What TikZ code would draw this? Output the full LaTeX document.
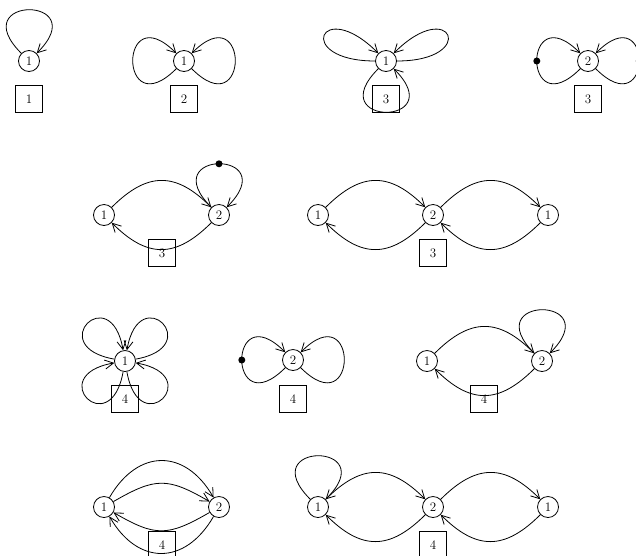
\documentclass[tikz,border=0pt]{standalone}
\usepackage{tikz}
\usetikzlibrary{arrows.meta}

\begin{document}
\begin{tikzpicture}[x=1pt, y=-1pt, line width=0.8pt, >={Straight Barb[length=8.5pt,width=9pt]},
    vtx/.style={circle, draw, inner sep=0pt, minimum size=21pt, font=\fontsize{13}{15}\selectfont},
    lbl/.style={rectangle, draw, inner sep=0pt, minimum size=26.5pt, font=\fontsize{13}{15}\selectfont},
    dot/.style={circle, fill, inner sep=0pt, minimum size=7pt},
    lp/.style={distance=82pt},
    arc/.style={bend left=45, looseness=1.3}]
    \useasboundingbox (0,0) rectangle (636,555);
    % one loop
    \node[vtx] (a1) at (29,61) {1};
    \node[lbl] (a1l) at (29,99) {1};
    \draw[->] (a1) to[out=135,in=45,lp] (a1);
    % two loops
    \node[vtx] (b1) at (184,61) {1};
    \node[lbl] (b1l) at (184,99) {2};
    \draw[->] (b1) to[out=225,in=135,lp] (b1);
    \draw[->] (b1) to[out=315,in=45,lp] (b1);
    % three loops
    \node[vtx] (c1) at (386,61) {1};
    \node[lbl] (c1l) at (386,99) {3};
    \draw[->] (c1) to[out=180,in=135,lp] (c1);
    \draw[->] (c1) to[out=0,in=45,lp] (c1);
    \draw[->] (c1) to[out=225,in=315,lp] (c1);
    % loops with marked points
    \node[vtx] (d1) at (588,61) {2};
    \node[lbl] (d1l) at (588,99) {3};
    \draw[->] (d1) to[out=225,in=135,lp] node[dot,pos=0.5] (d1a) {} (d1);
    \draw[->] (d1) to[out=315,in=45,lp] node[dot,pos=0.5] (d1b) {} (d1);

    % second row
    \node[vtx] (e1) at (104,215) {1};
    \node[vtx] (e2) at (219,215) {2};
    \node[lbl] (e1l) at (162,253) {3};
    \draw[->] (e1) to[arc] (e2);
    \draw[->] (e2) to[arc] (e1);
    \draw[->] (e2) to[out=135,in=45,lp] node[dot,pos=0.5] (e2a) {} (e2);
    % chain of three
    \node[vtx] (f1) at (318,215) {1};
    \node[vtx] (f2) at (433,215) {2};
    \node[vtx] (f3) at (548,215) {1};
    \node[lbl] (f1l) at (433,253) {3};
    \draw[->] (f1) to[arc] (f2);
    \draw[->] (f2) to[arc] (f1);
    \draw[->] (f2) to[arc] (f3);
    \draw[->] (f3) to[arc] (f2);

    % four loops
    \node[vtx] (g1) at (125,361) {1};
    \node[lbl] (g1l) at (125,399) {4};
    \draw[->] (g1) to[out=170,in=100,distance=72pt] (g1);
    \draw[->] (g1) to[out=10,in=80,distance=72pt] (g1);
    \draw[->] (g1) to[out=260,in=190,distance=72pt] (g1);
    \draw[->] (g1) to[out=280,in=350,distance=72pt] (g1);
    % one marked point
    \node[vtx] (h1) at (293,360) {2};
    \node[lbl] (h1l) at (293,399) {4};
    \draw[->] (h1) to[out=225,in=135,lp] node[dot,pos=0.5] (h1a) {} (h1);
    \draw[->] (h1) to[out=315,in=45,lp] (h1);
    % two vertices, loop at 2
    \node[vtx] (i1) at (427,361) {1};
    \node[vtx] (i2) at (542,361) {2};
    \node[lbl] (i1l) at (484,399) {4};
    \draw[->] (i1) to[arc] (i2);
    \draw[->] (i2) to[arc] (i1);
    \draw[->] (i2) to[out=135,in=45,lp] (i2);

    % double edges
    \node[vtx] (j1) at (104,507) {1};
    \node[vtx] (j2) at (219,507) {2};
    \node[lbl] (j1l) at (162,545) {4};
    \draw[->] (j1) to[bend left=60,looseness=1.4] (j2);
    \draw[->] (j1) to[bend left=30,looseness=1.3] (j2);
    \draw[->] (j2) to[bend left=30,looseness=1.3] (j1);
    \draw[->] (j2) to[bend left=60,looseness=1.4] (j1);
    % chain of three, loop at 1
    \node[vtx] (k1) at (318,507) {1};
    \node[vtx] (k2) at (433,507) {2};
    \node[vtx] (k3) at (548,507) {1};
    \node[lbl] (k1l) at (433,545) {4};
    \draw[->] (k1) to[out=135,in=45,lp] (k1);
    \draw[->] (k1) to[arc] (k2);
    \draw[->] (k2) to[arc] (k1);
    \draw[->] (k2) to[arc] (k3);
    \draw[->] (k3) to[arc] (k2);
\end{tikzpicture}
\end{document}
